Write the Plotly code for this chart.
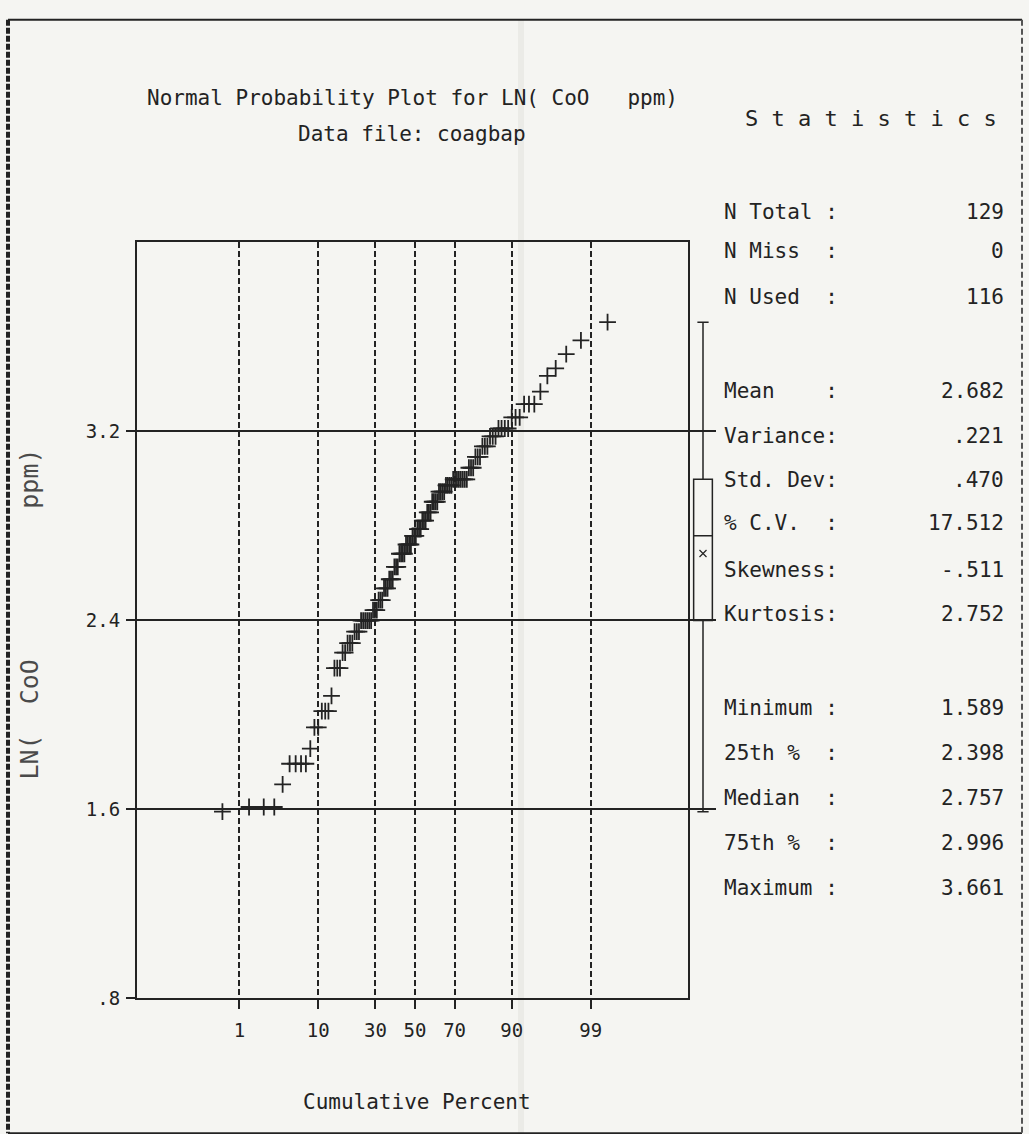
import plotly.graph_objects as go
from statistics import NormalDist

# ---- data ----
ln_coo_sorted = [
    1.589, 1.609, 1.609, 1.609, 1.705, 1.792, 1.792, 1.792, 1.792, 1.856,
    1.946, 1.946, 2.015, 2.015, 2.015, 2.079, 2.197, 2.197, 2.197, 2.262,
    2.262, 2.303, 2.303, 2.303, 2.351, 2.351, 2.351, 2.398, 2.398, 2.398,
    2.398, 2.398, 2.398, 2.442, 2.442, 2.442, 2.485, 2.485, 2.485, 2.534,
    2.534, 2.534, 2.573, 2.573, 2.573, 2.625, 2.625, 2.625, 2.681, 2.681,
    2.681, 2.681, 2.720, 2.720, 2.720, 2.720, 2.757, 2.757, 2.757, 2.785,
    2.785, 2.785, 2.821, 2.821, 2.821, 2.856, 2.856, 2.856, 2.901, 2.901,
    2.901, 2.901, 2.944, 2.944, 2.944, 2.944, 2.970, 2.970, 2.970, 2.970,
    2.996, 2.996, 2.996, 2.996, 2.996, 2.996, 2.996, 2.996, 3.045, 3.045,
    3.045, 3.091, 3.091, 3.091, 3.135, 3.135, 3.135, 3.178, 3.178, 3.178,
    3.211, 3.211, 3.211, 3.211, 3.258, 3.258, 3.258, 3.314, 3.314, 3.314,
    3.367, 3.434, 3.466, 3.526, 3.584, 3.661,
]
pct_ticks = [1, 10, 30, 50, 70, 90, 99]
y_ticks = [0.8, 1.6, 2.4, 3.2]
y_tick_text = [".8", "1.6", "2.4", "3.2"]

stat_labels = ["N Total :", "N Miss  :", "N Used  :",
               "Mean    :", "Variance:", "Std. Dev:", "% C.V.  :", "Skewness:", "Kurtosis:",
               "Minimum :", "25th %  :", "Median  :", "75th %  :", "Maximum :"]
stat_values = ["129", "0", "116",
               "2.682", ".221", ".470", "17.512", "-.511", "2.752",
               "1.589", "2.398", "2.757", "2.996", "3.661"]
stat_rows_px = [211, 250, 296, 390, 435, 479, 522, 568, 612, 706, 751, 796, 841, 886]

box_min, box_q1, box_median, box_q3, box_max, box_mean = 1.589, 2.398, 2.757, 2.996, 3.661, 2.682

# ---- layout constants ----
W, H = 1029, 1148
KY = 1.011          # vertical compensation for the capture
INK = "#232323"
BG = "#f5f5f2"
FONT = "DejaVu Sans Mono"

def px(x):
    return x / W

def py(y):
    return 1 - (y + 0.8) * KY / H

nd = NormalDist()
n = len(ln_coo_sorted)
# Blom plotting positions -> normal scores
z_scores = [nd.inv_cdf((i - 0.375) / (n + 0.25)) for i in range(1, n + 1)]
z_ticks = [nd.inv_cdf(p / 100) for p in pct_ticks]

fig = go.Figure()

fig.add_trace(go.Scatter(
    x=z_scores, y=ln_coo_sorted, mode="markers",
    marker=dict(symbol="cross-thin", size=12, line=dict(width=1.8, color=INK), color=INK),
    showlegend=False, hoverinfo="y",
))

fig.add_trace(go.Box(
    x=[0], q1=[box_q1], median=[box_median], q3=[box_q3],
    lowerfence=[box_min], upperfence=[box_max],
    xaxis="x2", yaxis="y", width=0.72, whiskerwidth=0.6,
    line=dict(color=INK, width=1.5), fillcolor="rgba(0,0,0,0)",
    showlegend=False,
))
fig.add_trace(go.Scatter(
    x=[0], y=[box_mean], xaxis="x2", yaxis="y", mode="markers",
    marker=dict(symbol="x-thin", size=7, line=dict(width=1.2, color=INK)),
    showlegend=False,
))

fig.update_layout(
    width=W, height=H, autosize=False,
    margin=dict(l=0, r=0, t=0, b=0),
    paper_bgcolor=BG, plot_bgcolor=BG,
    font=dict(family=FONT, color=INK),
    xaxis=dict(
        domain=[px(137), px(688)], range=[-3.682, 3.616],
        tickvals=z_ticks, ticktext=[str(p) for p in pct_ticks],
        showgrid=True, gridcolor=INK, gridwidth=1.6, griddash="6px,3px",
        zeroline=False, showline=True, linecolor=INK, linewidth=2, mirror=True,
        ticks="outside", ticklen=9, tickcolor=INK, tickwidth=1.5,
        tickfont=dict(size=19, family=FONT, color=INK), ticklabelstandoff=5,
        anchor="y",
    ),
    xaxis2=dict(
        domain=[px(690), px(716)], range=[-0.5, 0.5], visible=False, anchor="y",
    ),
    yaxis=dict(
        domain=[py(996), py(241)], range=[0.8, 4.0],
        tickvals=y_ticks, ticktext=y_tick_text,
        showgrid=True, gridcolor=INK, gridwidth=1.7,
        zeroline=False, showline=True, linecolor=INK, linewidth=2, mirror=True,
        ticks="outside", ticklen=9, tickcolor=INK, tickwidth=1.5,
        tickfont=dict(size=19, family=FONT, color=INK), ticklabelstandoff=2,
    ),
)

NB = "\u00a0"
def sp(s):
    return s.replace(" ", NB)

ann = []
ann.append(dict(text=sp("Normal Probability Plot for LN( CoO   ppm)"), x=px(412), y=py(97),
                xanchor="center", yanchor="middle", font=dict(size=21)))
ann.append(dict(text=sp("Data file: coagbap"), x=px(412), y=py(133),
                xanchor="center", yanchor="middle", font=dict(size=21)))
ann.append(dict(text=sp("S t a t i s t i c s"), x=px(743), y=py(118),
                xanchor="left", yanchor="middle", font=dict(size=22)))
ann.append(dict(text=sp("Cumulative Percent"), x=px(417), y=py(1100),
                xanchor="center", yanchor="middle", font=dict(size=21)))
ann.append(dict(text=sp("LN(  CoO          ppm)"), x=px(30), y=py(613), textangle=-90,
                xanchor="center", yanchor="middle", font=dict(size=25, color="#4a4a4a")))
for lab, val, ry in zip(stat_labels, stat_values, stat_rows_px):
    ann.append(dict(text=sp(lab), x=px(722), y=py(ry), xanchor="left", yanchor="middle",
                    font=dict(size=21)))
    ann.append(dict(text=val, x=px(1006), y=py(ry), xanchor="right", yanchor="middle",
                    font=dict(size=21)))
for a in ann:
    a.update(xref="paper", yref="paper", showarrow=False)
fig.update_layout(annotations=ann)

# page frame of the printout
shapes = [
    dict(type="line", x0=px(8), x1=px(1022), y0=py(19), y1=py(19), line=dict(color=INK, width=2)),
    dict(type="line", x0=px(8), x1=px(1022), y0=py(1131), y1=py(1131), line=dict(color=INK, width=2)),
    dict(type="line", x0=px(8), x1=px(8), y0=py(19), y1=py(1131), line=dict(color=INK, width=4, dash="6px,2px")),
    dict(type="line", x0=px(1022), x1=px(1022), y0=py(19), y1=py(1131), line=dict(color="#555555", width=2, dash="6px,3px")),
    dict(type="line", x0=px(521), x1=px(521), y0=py(19), y1=py(1131), line=dict(color="#ebebe7", width=6), layer="below"),
]
for s in shapes:
    s.update(xref="paper", yref="paper")
fig.update_layout(shapes=shapes)

fig.write_html(
    "out.html",
    config={"displayModeBar": False},
    post_script=("document.documentElement.style.overflow='hidden';"
                 "document.documentElement.style.background='" + BG + "';"
                 "document.body.style.margin='0';document.body.style.overflow='hidden';"),
)
